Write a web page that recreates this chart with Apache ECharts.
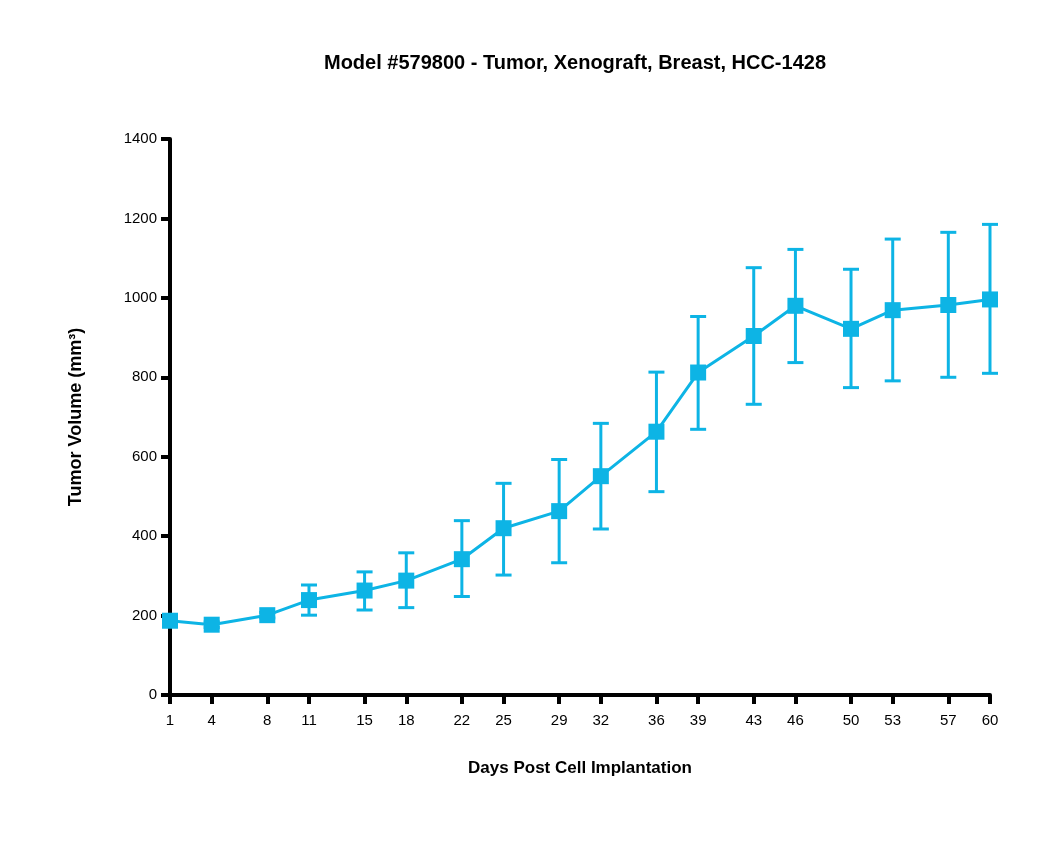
<!DOCTYPE html>
<html>
<head>
<meta charset="utf-8">
<script src="https://cdn.jsdelivr.net/npm/echarts@6/dist/echarts.min.js"></script>
<style>
    html, body { margin: 0; padding: 0; background: #fff; }
    #chart { width: 1050px; height: 853px; }
</style>
</head>
<body>
<div id="chart"></div>
<script>
// days post implantation (x ticks are the same days)
const days = [1, 4, 8, 11, 15, 18, 22, 25, 29, 32, 36, 39, 43, 46, 50, 53, 57, 60]
// mean tumor volume, mm3
const volume = [187, 177, 201, 239, 263, 288, 342, 420, 463, 551, 663, 812, 904, 980, 922, 969, 982, 996]
// error bar ends
const errLow = [180, 170, 194, 201, 214, 220, 248, 302, 333, 418, 512, 669, 732, 837, 774, 791, 800, 810]
const errHigh = [194, 184, 208, 277, 310, 358, 439, 533, 593, 684, 813, 953, 1076, 1122, 1072, 1148, 1165, 1185]
const yTicks = [0, 200, 400, 600, 800, 1000, 1200, 1400]

const color = '#0db4e5'
const font = 'Arial, "Liberation Sans", Helvetica, sans-serif'

const chart = echarts.init(document.getElementById('chart'))

const errData = days.map((d, i) => [d, errLow[i], errHigh[i]])

chart.setOption({
    animation: false,
    title: {
        text: 'Model #579800 - Tumor, Xenograft, Breast, HCC-1428',
        left: 570,
        top: 48,
        textAlign: 'center',
        textStyle: {
            fontFamily: font,
            fontSize: 20,
            fontWeight: 'bold',
            color: '#000'
        }
    },
    grid: {
        left: 170,
        right: 60,
        top: 139,
        bottom: 158
    },
    xAxis: {
        type: 'value',
        min: 1,
        max: 60,
        name: 'Days Post Cell Implantation',
        nameLocation: 'middle',
        nameGap: 65,
        nameTextStyle: {
            fontFamily: font,
            fontSize: 17,
            fontWeight: 'bold',
            color: '#000'
        },
        splitLine: { show: false },
        axisLine: {
            show: true,
            lineStyle: { color: '#000', width: 4 }
        },
        axisTick: {
            show: true,
            length: 9,
            customValues: days,
            lineStyle: { color: '#000', width: 4 }
        },
        axisLabel: {
            customValues: days,
            margin: 18,
            fontFamily: font,
            fontSize: 15,
            color: '#000'
        }
    },
    yAxis: {
        type: 'value',
        min: 0,
        max: 1400,
        interval: 200,
        name: 'Tumor Volume (mm³)',
        nameLocation: 'middle',
        nameGap: 85,
        nameTextStyle: {
            fontFamily: font,
            fontSize: 18,
            fontWeight: 'bold',
            color: '#000'
        },
        splitLine: { show: false },
        axisLine: {
            show: true,
            lineStyle: { color: '#000', width: 4 }
        },
        axisTick: {
            show: true,
            length: 9,
            lineStyle: { color: '#000', width: 4 }
        },
        axisLabel: {
            margin: 13,
            fontFamily: font,
            fontSize: 15,
            color: '#000',
            formatter: v => yTicks.includes(v) ? String(v) : ''
        }
    },
    series: [
        {
            type: 'custom',
            name: 'error',
            data: errData,
            z: 1,
            renderItem(params, api) {
                const x = api.value(0)
                const lo = api.coord([x, api.value(1)])
                const hi = api.coord([x, api.value(2)])
                const cap = 8
                const style = { stroke: color, lineWidth: 3, fill: null }
                return {
                    type: 'group',
                    children: [
                        { type: 'line', shape: { x1: lo[0], y1: lo[1], x2: hi[0], y2: hi[1] }, style },
                        { type: 'line', shape: { x1: hi[0] - cap, y1: hi[1], x2: hi[0] + cap, y2: hi[1] }, style },
                        { type: 'line', shape: { x1: lo[0] - cap, y1: lo[1], x2: lo[0] + cap, y2: lo[1] }, style }
                    ]
                }
            }
        },
        {
            type: 'line',
            name: 'volume',
            data: days.map((d, i) => [d, volume[i]]),
            symbol: 'rect',
            symbolSize: 16,
            z: 3,
            lineStyle: { color, width: 3 },
            itemStyle: { color }
        }
    ]
})
</script>
</body>
</html>
